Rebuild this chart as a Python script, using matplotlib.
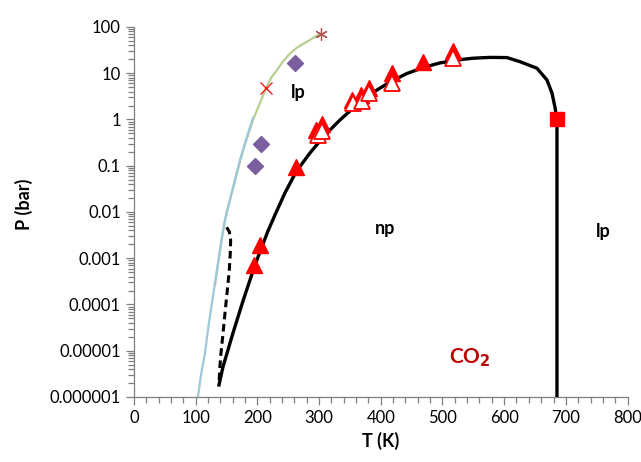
import numpy as np
import matplotlib
matplotlib.use("Agg")
import matplotlib.pyplot as plt
from matplotlib.ticker import FixedLocator, LogLocator, NullFormatter, MultipleLocator

plt.rcParams['font.family'] = ['Lato', 'DejaVu Sans']

# black solid boundary (np / lp)
T_solid = [137.8, 144.2, 152.4, 160.5, 168.6, 176.7, 184.8, 192.9, 201.0, 209.1, 217.2,
           228.5, 244.7, 262.6, 285.3, 301.5, 317.7, 333.9, 350.1, 369.5, 387.4, 414.9,
           442.5, 471.6, 495.9, 523.5, 549.4, 577.0, 604.5, 625.6, 653.2, 669.4, 677.5,
           682.3, 685.6, 685.6]
P_solid = [1.82e-6, 4.46e-6, 1.04e-5, 2.42e-5, 5.37e-5, 1.19e-4, 2.51e-4, 5.30e-4, 1.06e-3,
           2.03e-3, 3.88e-3, 8.6e-3, 0.0258, 0.0733, 0.189, 0.343, 0.593, 0.975, 1.53, 2.51,
           3.83, 6.47, 9.88, 13.6, 16.7, 19.3, 21.1, 22.0, 21.8, 17.8, 12.8, 7.15, 3.74,
           1.86, 1.0, 1e-6]

# black dashed branch
T_dash = [150.2, 154.5, 156.7, 156.1, 154.5, 151.9, 149.1, 146.4, 143.8, 141.0, 138.9, 137.8]
P_dash = [4.67e-3, 3.75e-3, 2.48e-3, 1.28e-3, 5.57e-4, 2.43e-4, 1.06e-4, 4.62e-5, 2.01e-5,
          8.81e-6, 3.84e-6, 1.82e-6]

# sublimation curve (blue)
T_sub = [103.7, 108.6, 115.1, 119.9, 126.4, 134.5, 142.6, 147.5, 155.6, 163.7, 171.8, 181.5, 192.9]
P_sub = [1e-6, 2.99e-6, 8.93e-6, 2.81e-5, 1.08e-4, 5.57e-4, 2.88e-3, 6.71e-3, 0.0182, 0.0492,
         0.133, 0.361, 1.08]

# saturation curve (green)
T_sat = [131.3, 137.8, 145.1, 150.7, 157.2, 165.3, 173.4, 183.1, 192.9, 199.4, 207.5, 213.9,
         222.0, 231.8, 241.5, 252.8, 265.8, 280.4, 291.7, 301.5]
P_sat = [2.64e-4, 1.06e-3, 4.51e-3, 0.0105, 0.0222, 0.0571, 0.147, 0.398, 0.975, 1.60, 2.92,
         4.80, 7.89, 11.7, 17.9, 26.7, 37.0, 48.1, 59.3, 70.6]

# triple point and critical point
T_triple, P_triple = 214, 4.9
T_crit, P_crit = 303, 72

# diamonds
T_dia = [261, 206, 196]
P_dia = [17, 0.30, 0.10]

# filled triangles
T_tri = [194.5, 204, 262.6, 295, 304.7, 353, 368, 381, 417.5, 468, 517]
P_tri = [7.1e-4, 1.95e-3, 0.093, 0.59, 0.79, 2.6, 3.4, 4.8, 10, 17.8, 30]

# open triangles
T_otri = [298, 305, 355, 369.5, 381, 419, 517]
P_otri = [0.46, 0.55, 2.3, 2.5, 3.7, 6.3, 21]

# square
T_sq, P_sq = 685.6, 1.0

yticks = [1e-6, 1e-5, 1e-4, 1e-3, 1e-2, 0.1, 1, 10, 100]
ylabels = ["0.000001", "0.00001", "0.0001", "0.001", "0.01", "0.1", "1", "10", "100"]

fig = plt.figure(figsize=(6.41, 4.62), dpi=100)
ax = fig.add_axes([0.209, 0.1407, 0.770, 0.8009])

ax.plot(T_sat, P_sat, color="#b5cf8f", lw=1.6, zorder=2)
ax.plot(T_sub, P_sub, color="#9dc8dc", lw=1.6, zorder=3)
ax.plot(T_solid, P_solid, color="black", lw=2.4, zorder=4)
ax.plot(T_dash, P_dash, color="black", lw=2.2, ls=(0, (2.5, 1.5)), zorder=4)

ax.plot(T_triple, P_triple, marker="x", color="red", ms=8, mew=0.9, ls="none", zorder=5)
ax.plot(T_crit, P_crit, marker=(6, 2, 0), color="#b05050", ms=9, mew=0.9, ls="none", zorder=5)
ax.plot(T_dia, P_dia, marker="D", color="#7b5ea0", ms=8, ls="none", zorder=5)
ax.plot(T_tri, P_tri, marker="^", color="red", ms=11, ls="none", zorder=6)
ax.plot(T_otri, P_otri, marker="^", mfc="white", mec="red", mew=1.3, ms=11, ls="none", zorder=7)
ax.plot(T_sq, P_sq, marker="s", color="red", ms=10, ls="none", zorder=7)

ax.set_yscale("log")
ax.set_xlim(0, 800)
ax.set_ylim(1e-6, 100)
ax.yaxis.set_major_locator(FixedLocator(yticks))
ax.set_yticklabels(ylabels)
ax.yaxis.set_minor_locator(LogLocator(base=10, subs=np.arange(2, 10)))
ax.yaxis.set_minor_formatter(NullFormatter())
ax.xaxis.set_major_locator(MultipleLocator(100))
ax.xaxis.set_minor_locator(MultipleLocator(20))

ax.spines["top"].set_visible(False)
ax.spines["right"].set_visible(False)
for s in ["left", "bottom"]:
    ax.spines[s].set_color("#7f7f7f")
    ax.spines[s].set_linewidth(0.9)
ax.tick_params(which="both", direction="out", color="#7f7f7f", width=0.9, labelsize=12)
ax.tick_params(which="major", length=6)
ax.tick_params(which="minor", length=4)

ax.set_xlabel("T (K)", fontsize=13, fontweight="bold")
ax.set_ylabel("P (bar)", fontsize=13, fontweight="bold")
ax.yaxis.set_label_coords(-0.205, 0.52)

ax.text(266, 3.9, "lp", fontsize=13, fontweight="bold", ha="center", va="center")
ax.text(407, 4.4e-3, "np", fontsize=13, fontweight="bold", ha="center", va="center")
ax.text(760, 3.7e-3, "lp", fontsize=13, fontweight="bold", ha="center", va="center")
ax.text(545, 6.9e-6, "CO$_\\mathbf{2}$", fontsize=15, fontweight="bold", color="#c00000",
        ha="center", va="center")

fig.savefig("out.png", dpi=100)
